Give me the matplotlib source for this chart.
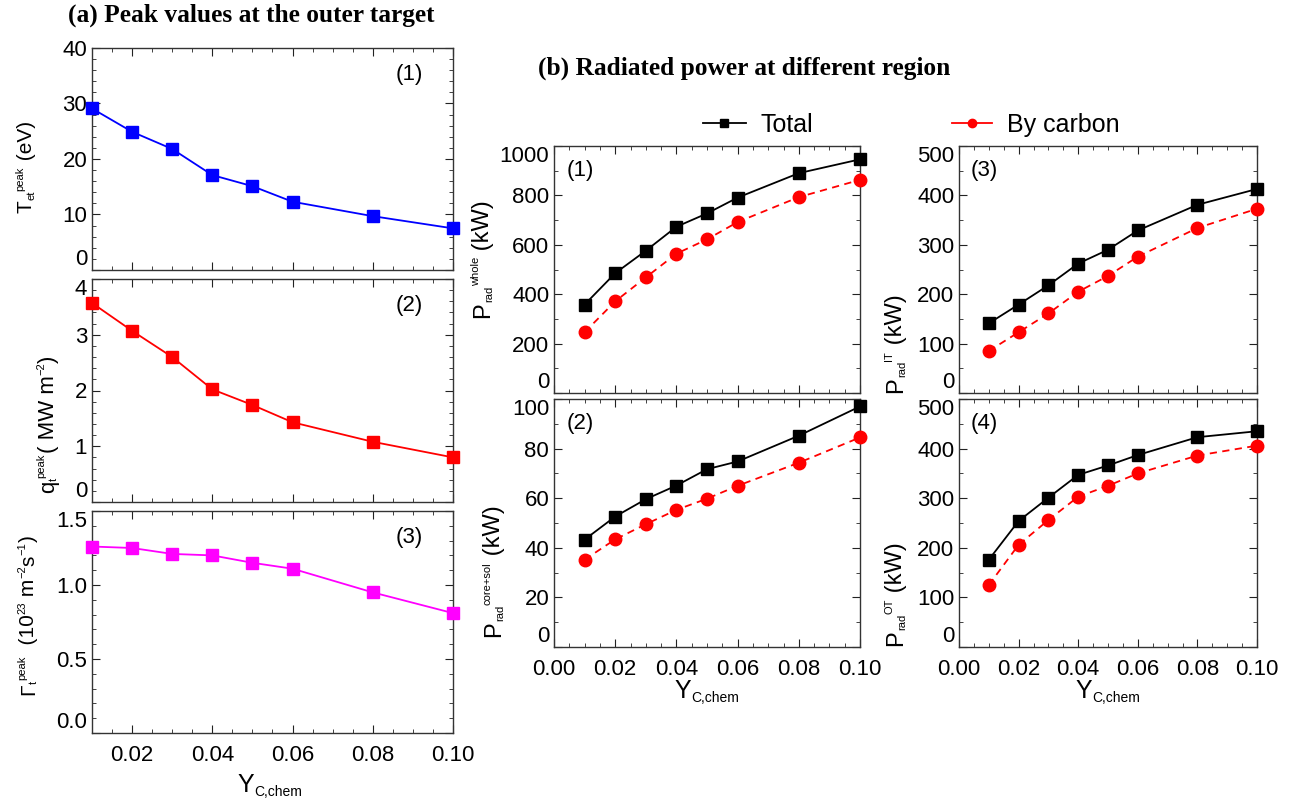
import matplotlib
matplotlib.use('Agg')
import matplotlib.pyplot as plt
from matplotlib.lines import Line2D
from matplotlib.ticker import MultipleLocator

plt.rcParams['font.family'] = ['Liberation Sans', 'DejaVu Sans']

# chemical sputtering yield
y_chem = [0.01, 0.02, 0.03, 0.04, 0.05, 0.06, 0.08, 0.10]

# (a) peak values at outer target
te_peak = [29.1, 24.9, 21.8, 17.1, 15.1, 12.3, 9.7, 7.5]
q_peak = [3.57, 3.07, 2.60, 2.02, 1.74, 1.43, 1.08, 0.80]
gam_peak = [1.26, 1.25, 1.21, 1.20, 1.15, 1.11, 0.95, 0.81]

# (b) radiated power (kW)
p_whole_tot = [358, 485, 576, 673, 727, 791, 890, 946]
p_whole_c = [246, 371, 468, 564, 622, 692, 793, 863]
p_core_tot = [43.3, 52.6, 59.6, 65.1, 71.7, 74.8, 85.2, 97.0]
p_core_c = [35.2, 43.4, 49.5, 55.3, 59.8, 65.0, 74.3, 84.5]
p_it_tot = [141, 179, 218, 262, 290, 329, 381, 413]
p_it_c = [85, 123, 161, 205, 237, 276, 334, 373]
p_ot_tot = [176, 254, 301, 347, 366, 387, 423, 435]
p_ot_c = [125, 206, 256, 303, 325, 350, 386, 406]

W, H = 1295, 801
fig = plt.figure(figsize=(W / 100, H / 100), dpi=100)
rend = fig.canvas.get_renderer()


def box(x0, y0, x1, y1):
    return fig.add_axes([x0 / W, 1 - y1 / H, (x1 - x0) / W, (y1 - y0) / H])


def style(ax, yticks, ymin, xmin=0.005):
    ax.xaxis.set_minor_locator(MultipleLocator(xmin))
    ax.set_yticks(yticks)
    ax.yaxis.set_minor_locator(MultipleLocator(ymin))
    ax.tick_params(which='both', direction='in', top=True, right=True, labelsize=16, color='#222222')
    ax.tick_params(which='major', length=6, width=0.8)
    ax.tick_params(which='minor', length=3, width=0.6)
    ax.tick_params(axis='x', which='major', pad=8.5)
    for s in ax.spines.values():
        s.set_linewidth(1.0)
        s.set_color('#333333')


def vlabel(xb, ybot, pieces, fs, sfs=8):
    # rotated label built piece by piece (small IDL-like sub/superscripts)
    y = ybot
    px = fs * 100 / 72
    for s, kind in pieces:
        size = fs if kind == 'n' else sfs
        off = {'n': 0, 'sub': -0.12 * px, 'sup': 0.42 * px}[kind]
        t = fig.text((xb - off) / W, 1 - y / H, s, fontsize=size, rotation=90,
                     rotation_mode='anchor', ha='left', va='baseline')
        y -= t.get_window_extent(rend).height


def hlabel(xc, yb, main, sub, fs=18, sfs=10):
    t1 = fig.text(0, 1 - yb / H, main, fontsize=fs, va='baseline')
    t2 = fig.text(0, 1 - (yb + 0.15 * fs * 100 / 72) / H, sub, fontsize=sfs, va='baseline')
    w1 = t1.get_window_extent(rend).width
    w2 = t2.get_window_extent(rend).width
    x0 = xc - (w1 + w2) / 2
    t1.set_x(x0 / W)
    t2.set_x((x0 + w1) / W)


# ---- left column ----
axl = [box(92, 48, 453, 270), box(92, 279, 453, 502), box(92, 511, 453, 733)]
lvals = [te_peak, q_peak, gam_peak]
lcols = ['blue', 'red', 'magenta']
lylim = [(0, 40), (0, 4), (0, 1.5)]
lyt = [[0, 10, 20, 30, 40], [0, 1, 2, 3, 4], [0, 0.5, 1.0, 1.5]]
lymin = [2, 0.2, 0.1]
for i, ax in enumerate(axl):
    ax.plot(y_chem, lvals[i], '-s', color=lcols[i], lw=1.3, ms=9, clip_on=False, zorder=5)
    ax.set_xlim(0.01, 0.10)
    ax.set_xticks([0.02, 0.04, 0.06, 0.08, 0.10])
    style(ax, lyt[i], lymin[i])
    ax.set_ylim(*lylim[i])
    if i == 2:
        ax.set_yticklabels(['0.0', '0.5', '1.0', '1.5'])
    labs = ax.get_yticklabels()
    labs[0].set_va('bottom')
    if i > 0:
        labs[-1].set_va('top')
    if i < 2:
        ax.tick_params(labelbottom=False)
    else:
        ax.set_xticklabels(['0.02', '0.04', '0.06', '0.08', '0.10'])
    ax.text(0.88, 0.88, '(%d)' % (i + 1), transform=ax.transAxes, fontsize=16, ha='center', va='center')

vlabel(32, 213, [('T', 'n'), ('et', 'sub'), ('peak', 'sup'), (' (eV)', 'n')], 15)
vlabel(54, 493, [('q', 'n'), ('t', 'sub'), ('peak', 'sup'), ('( MW m', 'n'), ('\u22122', 'sup'), (')', 'n')], 16)
vlabel(34, 695, [('\u0393', 'n'), ('t', 'sub'), ('peak', 'sup'), ('  (10', 'n'), ('23', 'sup'),
                 (' m', 'n'), ('\u22122', 'sup'), ('s', 'n'), ('\u22121', 'sup'), (')', 'n')], 15)
hlabel(270, 792, 'Y', 'C,chem')

# ---- right panels ----
axr = {1: box(554, 146, 860, 393), 2: box(554, 399, 860, 647),
       3: box(959, 146, 1257, 393), 4: box(959, 399, 1257, 647)}
rvals = {1: (p_whole_tot, p_whole_c), 2: (p_core_tot, p_core_c),
         3: (p_it_tot, p_it_c), 4: (p_ot_tot, p_ot_c)}
rylim = {1: (0, 1000), 2: (0, 100), 3: (0, 500), 4: (0, 500)}
ryt = {1: [0, 200, 400, 600, 800, 1000], 2: [0, 20, 40, 60, 80, 100],
       3: [0, 100, 200, 300, 400, 500], 4: [0, 100, 200, 300, 400, 500]}
rymin = {1: 100, 2: 10, 3: 50, 4: 50}
for k, ax in axr.items():
    tot, c = rvals[k]
    ax.plot(y_chem, tot, '-s', color='black', lw=1.3, ms=9, clip_on=False, zorder=6)
    ax.plot(y_chem, c, '--o', color='red', lw=1.3, ms=9, clip_on=False, zorder=5, dashes=(4, 3))
    ax.set_xlim(0, 0.10)
    ax.set_xticks([0, 0.02, 0.04, 0.06, 0.08, 0.10])
    style(ax, ryt[k], rymin[k])
    ax.set_ylim(*rylim[k])
    labs = ax.get_yticklabels()
    labs[0].set_va('bottom')
    labs[-1].set_va('top')
    if k in (1, 3):
        ax.tick_params(labelbottom=False)
    else:
        ax.set_xticklabels(['0.00', '0.02', '0.04', '0.06', '0.08', '0.10'])
    ax.text(0.04, 0.9, '(%d)' % k, transform=ax.transAxes, fontsize=16, ha='left', va='center')

vlabel(489, 318, [('P', 'n'), ('rad', 'sub'), ('whole', 'sup'), (' (kW)', 'n')], 17)
vlabel(500, 637, [('P', 'n'), ('rad', 'sub'), ('core+sol', 'sup'), (' (kW)', 'n')], 17)
vlabel(902, 393, [('P', 'n'), ('rad', 'sub'), ('IT', 'sup'), (' (kW)', 'n')], 17)
vlabel(902, 646, [('P', 'n'), ('rad', 'sub'), ('OT', 'sup'), (' (kW)', 'n')], 17)
hlabel(707, 698, 'Y', 'C,chem')
hlabel(1108, 698, 'Y', 'C,chem')

# legends
h_tot = Line2D([], [], color='black', marker='s', ms=6, lw=1.3)
h_c = Line2D([], [], color='red', marker='o', ms=6, lw=1.3)
fig.legend([h_tot], ['Total'], loc='center left', bbox_to_anchor=(703 / W, 1 - 125 / H),
           frameon=False, fontsize=18, handlelength=1.7, handletextpad=0.6,
           borderpad=0, borderaxespad=0)
fig.legend([h_c], ['By carbon'], loc='center left', bbox_to_anchor=(952 / W, 1 - 125 / H),
           frameon=False, fontsize=18, handlelength=1.6, handletextpad=0.6,
           borderpad=0, borderaxespad=0)

# titles
fig.text(251 / W, 1 - 15 / H, '(a) Peak values at the outer target', fontsize=18.3, fontweight='bold',
         family='Liberation Serif', ha='center', va='center')
fig.text(744 / W, 1 - 68 / H, '(b) Radiated power at different region', fontsize=18.3, fontweight='bold',
         family='Liberation Serif', ha='center', va='center')

fig.savefig('out.png', dpi=100)
